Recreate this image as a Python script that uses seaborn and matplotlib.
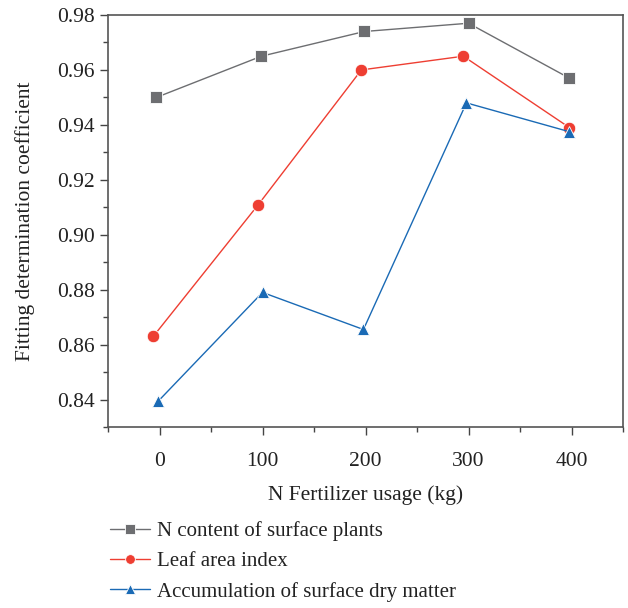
import pandas as pd
import numpy as np
import matplotlib.pyplot as plt
import seaborn as sns
from matplotlib.ticker import MultipleLocator

# values (x slightly jittered in the original)
series = ["N content of surface plants", "Leaf area index", "Accumulation of surface dry matter"]
x_n = [-3, 99, 199, 300, 398]
y_n = [0.950, 0.965, 0.974, 0.977, 0.957]
x_lai = [-6, 96, 196, 295, 398]
y_lai = [0.863, 0.911, 0.960, 0.965, 0.939]
x_dm = [-1, 100, 198, 298, 398]
y_dm = [0.8395, 0.879, 0.8655, 0.948, 0.9375]
x_ticks = [0, 100, 200, 300, 400]

colors = ["#6d6e71", "#ee3e32", "#1a6ab5"]
markers = ["s", "o", "^"]

df = pd.concat([
    pd.DataFrame({"x": x_n, "y": y_n, "series": series[0]}),
    pd.DataFrame({"x": x_lai, "y": y_lai, "series": series[1]}),
    pd.DataFrame({"x": x_dm, "y": y_dm, "series": series[2]}),
])

sns.set_style("ticks")
plt.rcParams["font.family"] = ["Liberation Serif", "DejaVu Serif"]

fig = plt.figure(figsize=(6.28, 6.08), dpi=100)
ax = fig.add_axes([108/628, 1-427/608, 515/628, 412/608])

sns.lineplot(data=df, x="x", y="y", hue="series", style="series",
             hue_order=series, style_order=series,
             palette=colors, markers=markers, dashes=False, sort=False,
             linewidth=1.0, markersize=9, markeredgecolor="white",
             markeredgewidth=0.6, ax=ax, legend=True)

ax.set_xlim(-50, 450)
ax.set_ylim(0.83, 0.98)
ax.set_xticks(x_ticks)
ax.xaxis.set_minor_locator(MultipleLocator(50))
ax.set_yticks(np.arange(0.84, 0.981, 0.02))
ax.yaxis.set_minor_locator(MultipleLocator(0.01))
ax.set_yticklabels(["%.2f" % v for v in np.arange(0.84, 0.981, 0.02)])
ax.tick_params(which="major", length=6, width=1, color="#444444", labelsize=15.5, labelcolor="#222222")
ax.tick_params(axis="x", which="major", pad=12)
ax.tick_params(which="minor", length=3.5, width=1, color="#444444")
for s in ax.spines.values():
    s.set_color("#555555")
    s.set_linewidth(1.2)

ax.set_xlabel("N Fertilizer usage (kg)", fontsize=15.5, color="#222222", labelpad=10)
ax.set_ylabel("Fitting determination coefficient", fontsize=15.5, color="#222222", labelpad=16)

handles, labels = ax.get_legend_handles_labels()
ax.get_legend().remove()
for h in handles:
    h.set_markersize(7)
fig.legend(handles, labels, loc="upper left", bbox_to_anchor=(102/628, 1-513/608),
           frameon=False, fontsize=15, handlelength=1.9, handletextpad=0.35,
           labelspacing=0.5, borderaxespad=0, labelcolor="#222222")

plt.savefig("out.png", dpi=100)
plt.close()
